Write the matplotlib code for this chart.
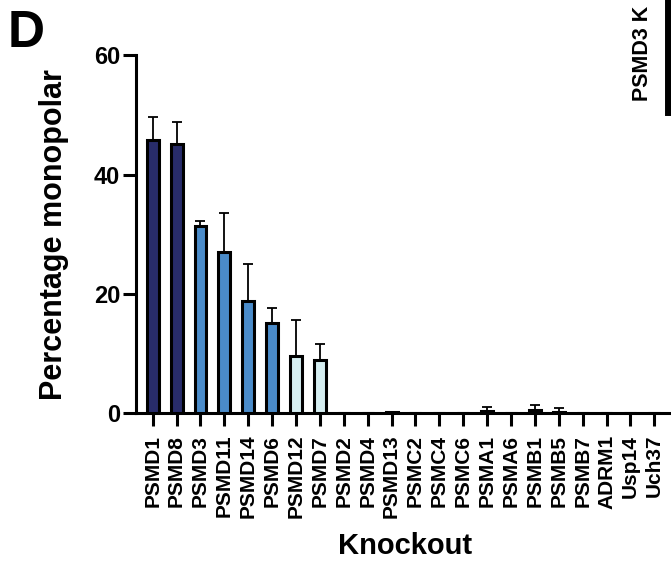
import matplotlib
matplotlib.use('Agg')
import matplotlib.pyplot as plt
import numpy as np

plt.rcParams.update({
    'font.family': 'Liberation Sans',
    'font.weight': 'bold',
    'axes.linewidth': 2.2,
})

# Monopolar spindle percentage per knockout (mean, upper SD)
knockouts = ['PSMD1', 'PSMD8', 'PSMD3', 'PSMD11', 'PSMD14', 'PSMD6', 'PSMD12',
             'PSMD7', 'PSMD2', 'PSMD4', 'PSMD13', 'PSMC2', 'PSMC4', 'PSMC6',
             'PSMA1', 'PSMA6', 'PSMB1', 'PSMB5', 'PSMB7', 'ADRM1', 'Usp14', 'Uch37']
monopolar = [45.8, 45.2, 31.4, 27.0, 18.8, 15.1, 9.6, 8.9, 0, 0, 0.2, 0, 0, 0,
             0.4, 0, 0.6, 0.3, 0, 0, 0, 0]
sd = [3.9, 3.7, 0.9, 6.6, 6.2, 2.5, 6.1, 2.7, 0, 0, 0, 0, 0, 0,
      0.7, 0, 0.8, 0.6, 0, 0, 0, 0]
groups = [0, 0, 1, 1, 1, 1, 2, 2] + [2] * 14

palette = ['#282c6a', '#4a8bc9', '#d5eef1']

fig = plt.figure(figsize=(6.71, 5.65), dpi=100)
ax = fig.add_axes([0.2027, 0.2685, 0.7973, 0.6333])

x = np.arange(len(knockouts))
ax.errorbar(x, monopolar, yerr=[np.zeros(len(sd)), sd], fmt='none',
            ecolor='black', elinewidth=1.3, capsize=3.4, capthick=1.3, zorder=2)
ax.bar(x, monopolar, width=0.5, color=[palette[g] for g in groups],
       edgecolor='black', linewidth=2.2, zorder=3)

ax.set_xlim(-0.7, 21.7)
ax.set_ylim(0, 60)
ax.set_yticks([0, 20, 40, 60])
ax.set_xticks(x)
ax.set_xticklabels(knockouts, rotation=90)
ax.tick_params(axis='both', width=2.2, length=9.5)
ax.tick_params(axis='x', pad=6, labelsize=15)
ax.tick_params(axis='y', pad=2, labelsize=17)
for s in ('top', 'right'):
    ax.spines[s].set_visible(False)
for lab in ax.get_xticklabels() + ax.get_yticklabels():
    lab.set_fontweight('bold')

ax.set_ylabel('Percentage monopolar', fontsize=22, fontweight='bold', va='center')
ax.yaxis.set_label_coords(-0.153, 0.5)
ax.set_xlabel('Knockout', fontsize=21, fontweight='bold', va='center')
ax.xaxis.set_label_coords(0.503, -0.372)

# panel letter and edge of the neighbouring panel
fig.text(8 / 671, 1 - 9 / 565, 'D', fontsize=37, fontweight='bold', ha='left', va='top')
fig.text(642 / 671, 1 - 101 / 565, 'PSMD3 K', fontsize=15.5, fontweight='bold',
         rotation=90, ha='center', va='bottom')
fig.add_artist(plt.Line2D([668 / 671, 668 / 671], [1, 1 - 112 / 565],
                          color='black', linewidth=5))

fig.savefig('out.png', dpi=100)
